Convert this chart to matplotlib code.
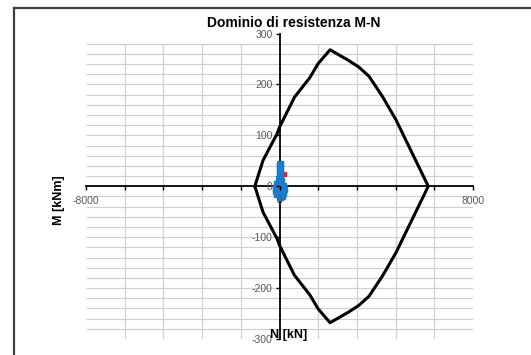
import numpy as np
import matplotlib.pyplot as plt
from matplotlib.lines import Line2D

plt.rcParams['font.family'] = ['Liberation Sans', 'DejaVu Sans']
plt.rcParams['axes.unicode_minus'] = False

# dominio M-N (N in kN, M in kNm), contorno chiuso
dom_N = [-1020, -680, -100, 0, 620, 1250, 1600, 2090, 2860, 3280, 3700, 4260, 4820, 6150,
         4820, 4260, 3700, 3280, 2860, 2090, 1600, 1250, 620, 0, -100, -680, -1020]
dom_M = [0, 51, 103, 116, 175, 213, 241, 268, 247, 234, 216, 176, 130, 0,
         -130, -176, -216, -234, -247, -268, -241, -213, -175, -116, -103, -51, 0]

# sollecitazioni di verifica
sol_N = [10, 40, 10, 40, -40, 80, -100, 150, -160, 170, -150, 160, -100, 100, 20, 40]
sol_M = [44, 38, 30, 22, 15, 10, 5, 0, -3, -6, -10, -13, -16, -19, -21, 8]
red_N = [200]
red_M = [25]

x_ticks = [-8000, -6400, -4800, -3200, -1600, 0, 1600, 3200, 4800, 6400, 8000]
x_labels = ['-8000', '', '', '', '', '0', '', '', '', '', '8000']
y_ticks = [-300, -200, -100, 0, 100, 200, 300]
y_grid = [v for v in range(-280, 281, 20) if v != 0]
x_grid = [v for v in x_ticks if v not in (-8000, 0, 8000)]

W, H = 531, 355
fig = plt.figure(figsize=(W / 100, H / 100), dpi=100)

# cornice esterna (solo lati sinistro e superiore visibili)
fig.add_artist(Line2D([14 / W, 14 / W], [0, 1 - 8 / H], transform=fig.transFigure,
                      color='#404040', lw=1.6))
fig.add_artist(Line2D([14 / W, 1], [1 - 8 / H, 1 - 8 / H], transform=fig.transFigure,
                      color='#404040', lw=1.6))

ax = fig.add_axes([86 / W, (H - 339) / H, 387 / W, 305.5 / H])
ax.set_xlim(-8000, 8000)
ax.set_ylim(-300, 300)

# griglia
ax.hlines(y_grid, -8000, 8000, colors='#d0d0d0', lw=0.9, zorder=0)
ax.vlines(x_grid, -300, 280, colors='#d0d0d0', lw=0.9, zorder=0)

ax.plot(dom_N, dom_M, color='black', lw=2.2, zorder=3)
ax.plot(red_N, red_M, 's', color='#e02020', ms=2.5, zorder=4)
ax.plot(sol_N, sol_M, 's', color='#1a7ccc', ms=4, mec='#1a7ccc', zorder=5)

for s in ['top', 'right']:
    ax.spines[s].set_visible(False)
ax.spines['left'].set_position(('data', 0))
ax.spines['bottom'].set_position(('data', 0))
ax.spines['left'].set_linewidth(1.3)
ax.spines['bottom'].set_linewidth(1.3)

ax.set_xticks(x_ticks)
ax.set_xticklabels(x_labels)
ax.set_yticks(y_ticks)
ax.tick_params(axis='both', direction='out', length=3, width=1, labelsize=7.5,
               labelcolor='#595959')
ax.tick_params(axis='x', pad=4)
ax.tick_params(axis='y', pad=2)
ax.xaxis.set_zorder(6)
ax.yaxis.set_zorder(6)

fig.text(294 / W, 1 - 23 / H, 'Dominio di resistenza M-N', ha='center', va='center',
         fontsize=10, fontweight='bold')
fig.text(59 / W, 1 - 200 / H, 'M [kNm]', ha='center', va='center', rotation=90,
         fontsize=9, fontweight='bold')
fig.text(289 / W, 1 - 335 / H, 'N [kN]', ha='center', va='center',
         fontsize=9, fontweight='bold')

fig.savefig('out.png', dpi=100)
